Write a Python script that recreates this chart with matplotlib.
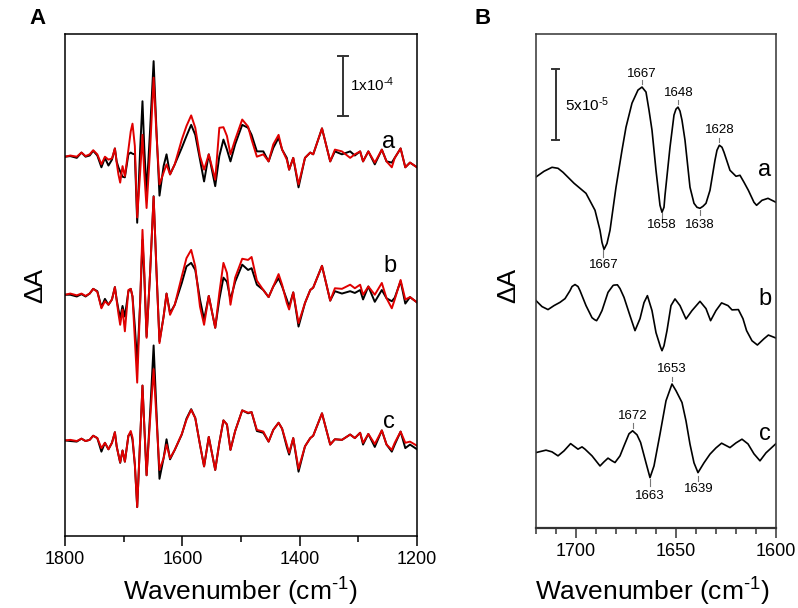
import matplotlib
matplotlib.use('Agg')
import matplotlib.pyplot as plt
from matplotlib import font_manager
from matplotlib.ticker import MultipleLocator
import numpy as np

plt.rcParams['font.family'] = ['Liberation Sans', 'DejaVu Sans']
plt.rcParams['mathtext.fontset'] = 'custom'
plt.rcParams['mathtext.rm'] = 'Liberation Sans'
plt.rcParams['mathtext.it'] = 'Liberation Sans:italic'
plt.rcParams['mathtext.bf'] = 'Liberation Sans:bold'
plt.rcParams['lines.solid_joinstyle'] = 'round'

# the original lettering is a condensed sans; use the narrow face if present
installed = {f.name for f in font_manager.fontManager.ttflist}
if 'Liberation Sans Narrow' in installed:
    axis_font = 'Liberation Sans Narrow'
    tick_size, title_size = 15, 22
else:
    axis_font = 'Liberation Sans'
    tick_size, title_size = 13, 19

# ---- panel A : difference spectra, units of 1e-5 dA
wnA = [1800, 1791, 1780, 1772, 1765, 1758, 1752, 1745, 1738, 1732,
       1726, 1720, 1715, 1712, 1709, 1706, 1702, 1698, 1692, 1688,
       1685, 1681, 1677, 1672, 1668, 1665, 1661, 1655, 1649, 1644,
       1639, 1632, 1627, 1621, 1613, 1601, 1593, 1585, 1578, 1570,
       1563, 1555, 1544, 1537, 1530, 1524, 1518, 1510, 1498, 1488,
       1482, 1473, 1462, 1453, 1445, 1436, 1430, 1422, 1418, 1411,
       1402, 1391, 1382, 1377, 1362, 1348, 1340, 1328, 1314, 1306,
       1297, 1292, 1283, 1272, 1260, 1252, 1243, 1238, 1228, 1220,
       1212, 1200]

a_black = [0.1, 0.2, -0.1, 0.8, 0.1, 0.3, 1.1, 0.3, -1.7, -0.1,
           -1.4, -0.4, 1.5, -0.7, -1.7, -2.4, -3.3, -3.4, 0.5, 0.8,
           0.6, 0.5, -11.1, 1.3, 9.5, 1.8, -6.0, 4.7, 16.3, 4.2,
           -6.5, -1.5, 0.5, -2.9, -1.2, 1.6, 3.6, 5.5, 3.8, -0.4,
           -4.1, 0.5, -4.9, 0.2, 3.0, 1.3, -0.7, 2.2, 5.5, 5.0,
           3.8, 1.0, 1.0, -0.7, 1.6, 3.3, 1.3, -0.1, -2.1, -0.1,
           -5.1, -0.1, 0.8, 0.5, 4.9, -0.7, 1.0, 0.5, 1.0, 0.3,
           1.0, -0.7, 1.0, -1.2, 1.3, -0.7, -0.9, -0.1, 1.5, -1.7,
           -0.9, -1.7]
a_red = [0.1, 0.3, 0.1, 0.8, 0.2, 0.5, 1.2, 0.5, -1.2, 0.1,
         -0.4, -0.2, 1.5, -0.9, -2.9, -4.3, -1.5, -3.2, 1.3, 4.4,
         5.7, 1.9, -10.2, -2.6, 3.8, -2.6, -8.6, 1.3, 13.5, 3.6,
         -4.6, -2.6, -1.2, -2.9, -1.2, 3.0, 5.3, 7.1, 5.0, 0.2,
         -2.1, 0.5, -3.8, 5.0, 5.1, 3.6, 0.5, 3.0, 6.4, 5.2,
         3.0, 0.1, 0.5, -0.7, 2.2, 3.8, 1.3, -0.4, -2.1, -0.1,
         -4.6, -0.1, 0.8, 0.5, 4.9, -0.7, 1.3, 1.0, -0.1, 0.5,
         1.0, -0.7, 1.0, -0.9, 1.3, -0.7, -1.7, -0.1, 1.5, -1.7,
         -0.9, -1.7]
b_black = [0.0, 0.0, -0.3, 0.1, -0.3, 0.2, 1.0, 0.6, -2.1, -0.7,
           -1.7, -0.8, 1.3, -0.8, -2.5, -3.9, -1.9, -3.7, 0.6, 1.0,
           -0.3, -5.4, -11.6, -1.4, 9.3, 3.4, -7.1, 3.7, 16.7, 3.7,
           -7.9, -3.7, 0.2, -3.1, -1.7, 2.0, 4.8, 5.4, 4.2, -0.8,
           -4.2, -0.2, -5.6, -0.8, 2.9, 2.2, -0.8, 2.2, 5.1, 4.2,
           4.5, 1.7, 0.8, -0.4, 1.4, 2.8, 1.4, -0.8, -2.0, 0.4,
           -5.4, -1.4, 0.8, 1.2, 4.9, -1.0, 0.6, 0.2, 0.6, 0.3,
           0.8, -0.8, 1.4, -1.2, 0.8, -0.6, -1.1, -0.5, 2.3, -1.5,
           -0.4, -1.3]
b_red = [0.0, 0.2, -0.1, 0.2, -0.2, 0.2, 1.0, 0.5, -2.3, -1.1,
         -1.7, -0.8, 1.3, -1.0, -3.2, -5.1, -2.5, -6.2, 0.8, 1.0,
         -0.3, -7.6, -14.9, -1.4, 11.0, 4.2, -7.3, 3.7, 16.6, 3.7,
         -8.2, -3.7, 0.2, -3.4, -1.7, 3.1, 6.2, 7.6, 4.8, -2.0,
         -5.1, -0.2, -5.6, 0.3, 5.4, 3.7, -1.7, 2.9, 6.1, 5.9,
         6.4, 2.4, 0.8, -0.4, 1.4, 3.5, 1.7, -1.4, -2.5, 0.4,
         -4.8, -1.4, 0.8, 1.2, 4.9, -1.0, 1.1, 1.0, 1.7, 1.1,
         1.7, 0.0, 1.4, 0.0, 2.0, -0.6, -2.3, -0.8, 2.5, -0.8,
         -0.4, -1.3]
c_black = [0.0, -0.1, -0.2, 0.3, -0.1, 0.1, 0.8, 0.4, -1.9, -0.4,
           -1.5, -0.4, 1.4, -1.0, -2.4, -3.8, -1.7, -3.6, 0.8, 1.3,
           0.1, -4.1, -11.3, 0.1, 9.3, 2.7, -5.9, 4.6, 16.1, 4.6,
           -6.5, -3.0, 0.2, -3.2, -1.6, 1.0, 3.7, 5.3, 3.8, -0.7,
           -4.4, 0.6, -5.0, -0.4, 3.4, 2.7, -1.6, 1.6, 5.1, 4.6,
           4.8, 1.6, 1.3, -0.2, 1.8, 3.0, 2.0, -1.1, -2.4, 0.4,
           -5.3, -1.0, 0.4, 0.8, 4.6, -0.7, 0.2, 0.1, 1.0, 0.4,
           1.3, -0.7, 1.1, -1.1, 1.7, -0.7, -1.9, -0.7, 1.5, -1.3,
           -0.7, -1.5]
c_red = [0.0, 0.1, -0.1, 0.3, -0.1, 0.1, 0.8, 0.4, -1.3, -0.4,
         -1.5, -0.4, 1.4, -1.0, -2.4, -3.7, -1.7, -3.6, 0.8, 1.6,
         0.5, -4.1, -11.3, 0.1, 9.3, 2.7, -5.9, 3.5, 12.1, 3.5,
         -5.0, -3.0, -0.7, -3.0, -1.6, 1.1, 3.5, 5.2, 3.8, -0.7,
         -4.4, 0.6, -5.0, -0.4, 3.4, 2.7, -1.6, 1.6, 5.1, 4.7,
         4.8, 1.8, 1.5, -0.2, 1.8, 3.0, 2.0, -0.7, -2.1, 0.4,
         -4.8, -1.0, 0.4, 0.8, 4.6, -0.7, 0.2, 0.1, 1.0, 0.4,
         1.3, -0.4, 1.1, -0.6, 1.7, -0.7, -1.6, -0.4, 1.5, -0.4,
         -0.2, -0.9]

# ---- panel B : resolved component traces, units of 1e-5 dA
wnB_a = [1720, 1716, 1712, 1709, 1706.5, 1701, 1695, 1690.5, 1688, 1687,
         1686, 1684.5, 1683, 1680, 1677, 1675, 1672, 1669, 1667, 1665,
         1663.5, 1662, 1660, 1658, 1657, 1656, 1655.5, 1653, 1651, 1650,
         1649, 1648, 1647, 1645.5, 1643, 1641, 1639.5, 1638, 1636.5, 1635,
         1633, 1630.5, 1629.5, 1628.3, 1627, 1626, 1623, 1620, 1618, 1616,
         1613.8, 1611, 1609.7, 1607, 1604, 1602, 1600]
B_a = [0.02, 0.42, 0.70, 0.63, 0.35, -0.42, -1.13, -2.32, -3.73, -4.58,
       -5.07, -4.65, -3.73, -0.70, 1.90, 3.52, 5.21, 6.13, 6.34, 5.99,
       4.72, 3.31, 0.49, -1.97, -2.46, -2.11, -1.27, 2.11, 4.37, 4.79,
       4.93, 4.65, 4.01, 2.61, -0.70, -1.83, -2.11, -2.18, -2.04, -1.83,
       -0.92, 1.20, 1.90, 2.25, 2.11, 1.76, 0.49, 0.07, 0.14, -0.35,
       -0.92, -1.76, -1.97, -1.62, -1.48, -1.62, -1.76]

wnB_b = [1720, 1717, 1714, 1711, 1708, 1705.5, 1703, 1702, 1700.5, 1699,
         1698, 1695, 1692, 1690.7, 1689.7, 1688.5, 1687, 1684, 1681.5, 1681,
         1679.3, 1678, 1676, 1673, 1670.5, 1668, 1666, 1664.3, 1662, 1660,
         1657.8, 1657, 1656, 1654.5, 1652.5, 1650.5, 1648, 1645, 1642, 1638,
         1635, 1632.7, 1630, 1627.2, 1624, 1622, 1618.8, 1616.5, 1614.7, 1612,
         1609.3, 1606, 1603.8, 1600]
B_b = [0.0, -0.42, -0.63, -0.35, -0.12, 0.14, 0.70, 0.99, 1.13, 0.99,
       0.70, -0.35, -1.20, -1.34, -1.41, -1.13, -0.70, 0.58, 1.06, 1.09,
       1.11, 0.85, 0.23, -1.06, -2.11, -1.27, -0.14, 0.35, -0.70, -2.25,
       -3.24, -3.52, -3.17, -2.11, -0.35, 0.12, -0.35, -1.29, -0.70, -0.05,
       -0.56, -1.41, -0.70, -0.16, -0.35, -0.65, -0.63, -1.27, -2.11, -2.82,
       -3.12, -2.68, -2.42, -2.63]

wnB_c = [1720, 1715, 1712, 1709, 1706, 1702.7, 1699, 1697, 1695.5, 1692,
         1688, 1686, 1684, 1682, 1680.5, 1678, 1676, 1673.5, 1671.7, 1669.5,
         1667.7, 1665, 1663, 1661, 1658, 1655, 1652, 1650, 1647, 1645,
         1643, 1641, 1639, 1636, 1633, 1630, 1627.2, 1623, 1620, 1617,
         1614, 1611, 1608, 1605, 1603, 1600]
B_c = [0.02, 0.19, 0.07, -0.21, 0.14, 0.65, 0.26, 0.42, 0.26, -0.21,
       -0.92, -0.63, -0.37, -0.56, -0.68, -0.21, 0.49, 1.34, 1.55, 1.27,
       0.73, -0.70, -1.74, -0.92, 1.32, 3.66, 4.84, 4.37, 3.54, 2.25,
       0.61, -0.70, -1.39, -0.70, -0.09, 0.35, 0.68, 0.37, 0.70, 0.96,
       0.63, -0.07, -0.56, 0.0, 0.26, 0.65]

# peak labels in panel B: text, wavenumber, text y, tick from, tick to
peak_labels = [
    ('1667', 1667.0, 26.65, 26.20, 25.92),
    ('1648', 1648.8, 25.30, 24.79, 24.51),
    ('1628', 1628.3, 22.68, 22.16, 21.85),
    ('1658', 1657.2, 15.99, 16.85, 16.53),
    ('1638', 1638.0, 15.99, 17.04, 16.69),
    ('1667', 1686.3, 13.17, 14.23, 13.75),
    ('1653', 1652.2, 5.89, 5.35, 5.02),
    ('1672', 1671.7, 2.61, 2.13, 1.78),
    ('1663', 1663.0, -3.03, -1.85, -2.32),
    ('1639', 1638.8, -2.56, -1.62, -1.97),
]

fig = plt.figure(figsize=(7.98, 6.08), dpi=100)
axA = fig.add_axes([0.0815, 0.1184, 0.4411, 0.8257])
axB = fig.add_axes([0.6717, 0.1316, 0.3007, 0.8125])

# panel A
offA = {'a': 48.0, 'b': 24.7, 'c': 0.0}
for key, blk, red in [('a', a_black, a_red), ('b', b_black, b_red), ('c', c_black, c_red)]:
    axA.plot(wnA, np.array(blk) + offA[key], color='black', lw=1.4)
    axA.plot(wnA, np.array(red) + offA[key], color='#e00000', lw=1.4)
axA.text(1248, 50.6, 'a', fontsize=17, ha='center', va='center')
axA.text(1246, 29.5, 'b', fontsize=17, ha='center', va='center')
axA.text(1248, 3.1, 'c', fontsize=17, ha='center', va='center')

# scale bar 1x10^-4
axA.plot([1325.6, 1325.6], [55.0, 65.1], color='#333333', lw=1.4)
axA.plot([1334.1, 1317.1], [55.0, 55.0], color='#333333', lw=1.4)
axA.plot([1334.1, 1317.1], [65.1, 65.1], color='#333333', lw=1.4)
axA.text(1314, 60.3, r'1x10$^{\text{-4}}$', fontsize=11, ha='left', va='center')

axA.set_xlim(1800, 1200)
axA.set_ylim(-16.2, 68.9)
axA.xaxis.set_major_locator(MultipleLocator(200))
axA.xaxis.set_minor_locator(MultipleLocator(100))
axA.tick_params(axis='x', which='major', direction='out', length=7, width=1.1,
                labelsize=tick_size, pad=4)
axA.tick_params(axis='x', which='minor', direction='out', length=4.5, width=1.1)
axA.set_yticks([])
for s in axA.spines.values():
    s.set_linewidth(1.1)

# panel B
offB = {'a': 19.37, 'b': 10.70, 'c': 0.0}
axB.plot(wnB_a, np.array(B_a) + offB['a'], color='black', lw=1.2)
axB.plot(wnB_b, np.array(B_b) + offB['b'], color='black', lw=1.2)
axB.plot(wnB_c, np.array(B_c) + offB['c'], color='black', lw=1.2)
axB.text(1605.5, 19.86, 'a', fontsize=17, ha='center', va='center')
axB.text(1605.5, 10.80, 'b', fontsize=17, ha='center', va='center')
axB.text(1605.5, 1.34, 'c', fontsize=17, ha='center', va='center')

for txt, wn, ty, y0, y1 in peak_labels:
    axB.plot([wn, wn], [y0, y1], color='#777777', lw=0.8)
    axB.text(wn, ty, txt, fontsize=9.5, ha='center', va='center')

# scale bar 5x10^-5
axB.plot([1710.2, 1710.2], [21.97, 26.95], color='#333333', lw=1.4)
axB.plot([1712.1, 1708.3], [21.97, 21.97], color='#333333', lw=1.4)
axB.plot([1712.1, 1708.3], [26.95, 26.95], color='#333333', lw=1.4)
axB.text(1705.5, 24.44, r'5x10$^{\text{-5}}$', fontsize=11, ha='left', va='center')

axB.set_xlim(1720, 1600)
axB.set_ylim(-5.28, 29.44)
axB.xaxis.set_major_locator(MultipleLocator(50))
axB.xaxis.set_minor_locator(MultipleLocator(10))
axB.tick_params(axis='x', which='major', direction='out', length=7, width=1.1,
                labelsize=tick_size, pad=4, color='#333333')
axB.tick_params(axis='x', which='minor', direction='out', length=4, width=1.1,
                color='#333333')
axB.set_yticks([])
for s in axB.spines.values():
    s.set_linewidth(1.1)
    s.set_color('#333333')
axB.spines['bottom'].set_linewidth(1.6)

for ax in (axA, axB):
    for lab in ax.get_xticklabels():
        lab.set_family(axis_font)

# axis titles and panel letters
for cx in (240, 652):
    fig.text(cx / 798, 1 - 601 / 608, r'Wavenumber (cm$^{\text{-1}}$)',
             fontsize=title_size, family=axis_font, ha='center', va='baseline')
for cx in (35, 508):
    fig.text(cx / 798, 1 - 285 / 608, '\u0394A', fontsize=19, rotation=90,
             ha='center', va='center')
fig.text(38 / 798, 1 - 18 / 608, 'A', fontsize=16, fontweight='bold',
         ha='center', va='center')
fig.text(483 / 798, 1 - 18 / 608, 'B', fontsize=16, fontweight='bold',
         ha='center', va='center')

fig.savefig('out.png', dpi=100)
